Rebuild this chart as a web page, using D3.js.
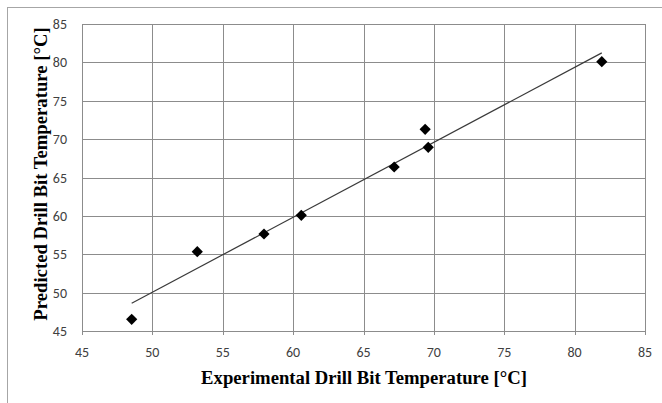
<!DOCTYPE html>
<html>
<head>
<meta charset="utf-8">
<script src="https://cdn.jsdelivr.net/npm/d3@7"></script>
<style>
  body { margin: 0; background: #fff; }
  svg { display: block; }
</style>
</head>
<body>
<script>
var expTemp  = [48.53, 53.19, 57.93, 60.58, 67.18, 69.38, 69.6, 81.93];
var predTemp = [46.52, 55.33, 57.64, 60.07, 66.37, 71.28, 68.93, 80.09];
var xTicks = [45, 50, 55, 60, 65, 70, 75, 80, 85];
var yTicks = [45, 50, 55, 60, 65, 70, 75, 80, 85];

var width  = 662,
    height = 403,
    plotL = 82, plotR = 645, plotT = 24, plotB = 331;

const svg = d3.select("body")
    .append("svg")
    .attr("width", width)
    .attr("height", height);

// outer chart border
svg.append("rect")
    .attr("x", 7.5).attr("y", 7.5)
    .attr("width", 700).attr("height", 500)
    .attr("fill", "none")
    .attr("stroke", "#a6a6a6");

var x = d3.scaleLinear().domain([45, 85]).range([plotL, plotR]);
var y = d3.scaleLinear().domain([45, 85]).range([plotB, plotT]);

// gridlines
svg.append("g")
    .selectAll("line")
    .data(xTicks)
    .join("line")
    .attr("x1", d => Math.round(x(d)) + 0.5)
    .attr("x2", d => Math.round(x(d)) + 0.5)
    .attr("y1", plotT)
    .attr("y2", plotB + 4)
    .style("stroke", "#8c8c8c");

svg.append("g")
    .selectAll("line")
    .data(yTicks)
    .join("line")
    .attr("x1", plotL)
    .attr("x2", plotR)
    .attr("y1", d => Math.round(y(d)) + 0.5)
    .attr("y2", d => Math.round(y(d)) + 0.5)
    .style("stroke", "#8c8c8c");

// tick labels
svg.append("g")
    .selectAll("text")
    .data(xTicks)
    .join("text")
    .attr("x", d => x(d))
    .attr("y", 357)
    .attr("text-anchor", "middle")
    .style("font-family", "Carlito, 'Open Sans', sans-serif")
    .style("font-size", "14px")
    .style("fill", "#404040")
    .text(d => d);

svg.append("g")
    .selectAll("text")
    .data(yTicks)
    .join("text")
    .attr("x", 67)
    .attr("y", d => y(d) + 5)
    .attr("text-anchor", "end")
    .style("font-family", "Carlito, 'Open Sans', sans-serif")
    .style("font-size", "14px")
    .style("fill", "#404040")
    .text(d => d);

// linear trendline (least squares)
var mx = d3.mean(expTemp), my = d3.mean(predTemp);
var sxy = d3.sum(expTemp, (v, i) => (v - mx) * (predTemp[i] - my));
var sxx = d3.sum(expTemp, v => (v - mx) * (v - mx));
var slope = sxy / sxx, icpt = my - slope * mx;
var x0 = d3.min(expTemp), x1 = d3.max(expTemp);

svg.append("line")
    .attr("x1", x(x0)).attr("y1", y(icpt + slope * x0))
    .attr("x2", x(x1)).attr("y2", y(icpt + slope * x1))
    .style("stroke", "#3a3a3a")
    .style("stroke-width", 1.2);

// markers
var points = expTemp.map((v, i) => ({x: v, y: predTemp[i]}));
svg.append("g")
    .selectAll("path")
    .data(points)
    .join("path")
    .attr("transform", d => "translate(" + x(d.x) + "," + y(d.y) + ")")
    .attr("d", d3.symbol(d3.symbolDiamond2, 80))
    .attr("fill", "#000");

// axis titles
svg.append("text")
    .attr("x", 364)
    .attr("y", 384)
    .attr("text-anchor", "middle")
    .style("font-family", "'Liberation Serif', 'Times New Roman', serif")
    .style("font-weight", "bold")
    .style("font-size", "18.7px")
    .text("Experimental Drill Bit Temperature [°C]");

svg.append("text")
    .attr("transform", "translate(47,174) rotate(-90)")
    .attr("text-anchor", "middle")
    .style("font-family", "'Liberation Serif', 'Times New Roman', serif")
    .style("font-weight", "bold")
    .style("font-size", "18.7px")
    .text("Predicted Drill Bit Temperature [°C]");
</script>
</body>
</html>
